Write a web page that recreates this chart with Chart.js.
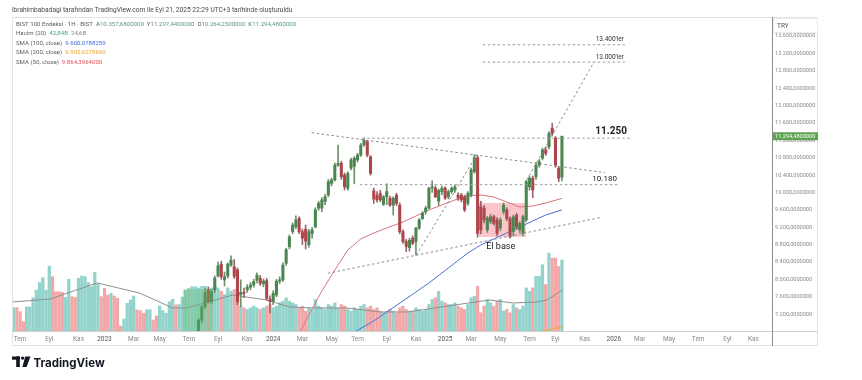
<!DOCTYPE html>
<html><head><meta charset="utf-8">
<script src="https://cdn.jsdelivr.net/npm/chart.js@4/dist/chart.umd.min.js"></script>
<style>html,body{margin:0;padding:0;background:#fff}canvas{display:block}</style>
</head><body><canvas id="c" width="862" height="380"></canvas>
<script>
// ---------- DATA ----------
const candleStart = '2023-07-24'; // first visible weekly bar (Monday)
const opens  = [6640,7060,7370,7770,7490,7760,8080,8350,7990,8080,8330,8290,8220,7650,7700,7760,7820,7870,7980,8030,7900,7970,7540,7490,7640,7960,7990,8370,8750,9100,9210,9400,9100,9150,8800,9050,9210,9640,9640,9790,9940,10210,10290,10630,10670,10400,10100,10560,10600,10750,10860,11100,11170,10820,10040,9940,9980,9730,9900,9870,9710,9940,9710,9100,8870,8730,8950,8870,9180,9400,9560,9640,10100,10100,9800,10020,10100,9900,10020,10060,9940,9940,9900,9750,9940,10480,10800,9670,9640,9140,9330,9440,9370,9180,9560,9600,9400,9100,9480,9140,9060,9370,10130,10330,10360,10630,10790,10980,11050,11480,11250,10560,10357.68];
const highs  = [7100,7400,7800,7830,7760,8080,8400,8420,8170,8380,8540,8460,8260,7990,7800,7880,7930,8000,8150,8090,8010,8020,7620,7740,8000,8060,8380,8720,9020,9300,9460,9440,9160,9250,9150,9200,9650,9800,9880,9960,10300,10330,10680,11090,10720,10450,10480,10790,10830,10900,11130,11250,11200,10850,10100,10020,10050,9930,10200,9920,9900,9980,9760,9140,8920,8950,9000,9200,9400,9560,9680,10120,10270,10150,10080,10150,10130,10060,10130,10170,9990,9980,9940,10020,10560,10870,10850,9800,9700,9450,9500,9480,9420,9420,9760,9650,9440,9480,9520,9330,9480,10280,10380,10380,10680,10760,11020,11050,11400,11590,11290,10600,11297.44];
const lows   = [6600,7000,7330,7450,7430,7700,8050,8000,7850,8030,8300,8020,7420,7370,7580,7700,7760,7820,7920,7860,7830,7520,7230,7420,7600,7900,7950,8320,8700,9050,9170,9050,8800,8700,8740,8950,9180,9590,9560,9720,9900,10150,10260,10600,10300,10060,10050,10520,10200,10700,10830,11060,10820,10400,9750,9780,9790,9700,9720,9680,9480,9700,9050,8830,8640,8650,8800,8560,9150,9380,9500,9620,10000,9880,9700,9950,9840,9850,9980,10000,9820,9780,9560,9700,9900,10440,8970,9050,9300,9080,9280,9250,9000,9120,9500,9350,8950,9000,9150,9080,9000,9330,10050,9880,10300,10580,10750,10850,11000,11300,10580,10250,10264.25];
const closes = [7060,7370,7700,7490,7720,8030,8310,8060,8060,8350,8440,8070,7490,7700,7680,7820,7870,7950,8100,7910,7960,7560,7490,7680,7960,7990,8330,8680,8980,9250,9370,9100,8950,8880,9100,9140,9600,9750,9830,9900,10250,10290,10630,10670,10360,10130,10440,10750,10790,10860,11090,11200,10860,10440,9850,9830,9830,9900,10020,9710,9870,9750,9100,8870,8760,8900,8830,9180,9370,9520,9640,10100,10130,9900,10050,10100,9870,10020,10100,10130,9870,9830,9600,9980,10520,10800,9060,9140,9370,9410,9440,9290,9060,9370,9710,9400,8980,9440,9210,9290,9440,10250,10330,10060,10630,10710,10980,10900,11360,11360,10630,10330,11294.48];
// weekly volume (billions) for the same weeks as the candles
const volumes = [26,27,27,25,26,27,26,24,22,26,24,25,20,15,14,13,14,15,14,13,14,15,16,14,15,17,18,20,18,17,16,14,15,12,14,13,19,15,14,13,16,15,17,14,16,15,13,12,14,13,15,16,14,15,13,14,12,11,12,13,12,11,14,15,13,12,12,14,13,12,13,16,19,20,24,18,17,16,16,17,15,14,13,16,20,21,27,11,15,19,17,15,18,19,12,13,11,16,14,13,15,26,24,26,33,33,40,28,47,44,44,39,42.84];
// weekly volume before the first visible candle (price below the pane)
const preVolumes  = [14.1,14.1,11.7,5.6,14.5,14.5,20,24.7,29.2,32.2,24.7,39.2,32.8,23.7,23.7,23.3,20.3,31.2,20.7,20.3,31.8,33.2,32.8,29.2,26.7,35.4,28.4,20.7,25.8,21.7,22.7,21.1,19.7,3.0,7.2,16.7,18.7,21.1,12.7,12.3,10.7,12.7,12.9,6.6,9.1,15.1,12.3,10.7,17.7,19.1,15.7,16,20.5,24.7,25.8,26.7,26.7];
const preVolumeUp = [1,0,0,0,1,1,1,1,1,1,1,1,0,0,0,0,1,1,0,0,1,1,1,1,1,1,1,0,0,0,1,0,0,0,1,1,1,1,0,0,0,1,1,0,0,1,1,1,1,1,0,1,1,1,1,1,1];
// moving averages
const sma50Dates  = ['2024-02-19','2024-03-18','2024-04-15','2024-05-13','2024-06-10','2024-07-08','2024-08-05','2024-09-02','2024-10-07','2024-11-04','2024-12-02','2024-12-30','2025-01-27','2025-02-24','2025-03-24','2025-04-21','2025-05-19','2025-06-16','2025-07-14','2025-08-11','2025-09-15'];
const sma50Values = [6605,7180,7733,8216,8677,8930,9068,9183,9321,9459,9597,9712,9827,9919,9942,9896,9781,9666,9689,9758,9864.40];
const sma100Dates  = ['2024-06-10','2024-08-05','2024-09-02','2024-10-07','2024-11-04','2024-12-02','2024-12-30','2025-01-27','2025-02-24','2025-03-24','2025-04-21','2025-05-19','2025-06-16','2025-07-14','2025-08-11','2025-09-15'];
const sma100Values = [6700,7043,7250,7503,7710,7917,8147,8377,8608,8792,8930,9068,9206,9344,9482,9600.08];
const sma200Dates  = ['2025-07-14','2025-09-15'];
const sma200Values = [6760,6905.63];
const volMaDates  = ['2022-06-17','2022-09-07','2022-12-17','2023-03-19','2023-05-29','2023-06-28','2023-10-06','2023-12-18','2024-02-05','2024-03-27','2024-06-08','2024-08-18','2024-10-18','2024-12-30','2025-03-11','2025-04-13','2025-06-01','2025-07-23','2025-08-14','2025-09-15'];
const volMaValues = [17.5,19.3,29,22.9,13.9,13.9,21.7,18.7,14.5,13.9,13.9,11.5,11.5,14.5,17.5,18.7,16.9,17.5,18.7,24.6];
// axis labels
const tickDates  = ['2022-07','2022-09','2022-11','2023-01','2023-03','2023-05','2023-07','2023-09','2023-11','2024-01','2024-03','2024-05','2024-07','2024-09','2024-11','2025-01','2025-03','2025-05','2025-07','2025-09','2025-11','2026-01','2026-03','2026-05','2026-07','2026-09','2026-11'];
const tickLabels = ['Tem','Eyl','Kas','2023','Mar','May','Tem','Eyl','Kas','2024','Mar','May','Tem','Eyl','Kas','2025','Mar','May','Tem','Eyl','Kas','2026','Mar','May','Tem','Eyl','Kas'];
const priceTicks = [7200,7600,8000,8400,8800,9200,9600,10000,10400,10800,11200,11600,12000,12400,12800,13200,13600];
// drawings (date, price)
const trendLines = [
  [['2024-03-24',11376],['2025-12-17',10456]],
  [['2024-11-05',8562],['2025-03-15',10863]],
  [['2024-04-28',8140],['2025-12-08',9425]],
  [['2025-07-01',10288],['2025-11-23',13000]]
];
const levelValues = [11250,10180,13400,13000];
const levelFrom   = ['2024-07-11','2024-07-06','2025-03-28','2025-03-28'];
const levelTo     = ['2026-02-13','2026-01-18','2026-01-29','2026-01-29'];
const levelLabels = ['11.250','10.180',"13.400'ler","13.000'ler"];
const baseBox  = {from:'2025-03-20', to:'2025-06-29', low:8976, high:9758, label:'El base', labelDate:'2025-05-06', labelPrice:8790};
const greenBox = {from:'2023-06-20', to:'2023-08-24', volTop:25.2};
const headerText = 'ibrahimbabadagi tarafından TradingView.com ile Eyl 21, 2025 22:29 UTC+3 tarihinde oluşturuldu';

// ---------- HELPERS ----------
const DAY = 864e5, WEEK = 7*DAY;
const T = s => Date.parse(s.length===7 ? s+'-01T00:00:00Z' : s+'T00:00:00Z');
const firstMonday = s => { let t=T(s); while(new Date(t).getUTCDay()!==1) t+=DAY; return t; };
const t0 = T(candleStart);
const fmt = v => { const [a,b]=v.toFixed(7).split('.'); return a.replace(/\B(?=(\d{3})+(?!\d))/g,'.')+','+b; };
const FONT = 'Roboto, "Noto Sans", sans-serif';
const UP='#4a8650', DN='#ad454b', VUP='#92d3cc', VDN='#f2a8a8';

const candleX = opens.map((_,i)=>t0+i*WEEK);
const bodies = opens.map((o,i)=>({x:candleX[i], y:[o,closes[i]]}));
const wicks  = opens.map((o,i)=>({x:candleX[i], y:[lows[i],highs[i]]}));
const volData = preVolumes.map((v,i)=>({x:t0-(preVolumes.length-i)*WEEK, y:v, up:preVolumeUp[i]===1}))
  .concat(volumes.map((v,i)=>({x:candleX[i], y:v, up:closes[i]>=opens[i]})));
const pts = (d,v)=>d.map((s,i)=>({x:T(s), y:v[i]}));

const base0 = T('2023-01-01');
const xMin = base0 - 198.5*DAY, xMax = base0 + 1441.2*DAY;

const lineDs = (data, color, axis, order, dash) => ({type:'line', data, yAxisID:axis, borderColor:color, borderWidth:1,
  pointRadius:0, tension:0, order, borderDash:dash||[], fill:false});

const datasets = [];
datasets.push({type:'bar', data:volData, yAxisID:'yv', grouped:false, barThickness:2.6, order:9,
  backgroundColor:c=>c.raw && c.raw.up ? VUP : VDN});
datasets.push(lineDs(pts(volMaDates,volMaValues),'#8f8f8f','yv',8));
datasets.push(lineDs(pts(sma200Dates,sma200Values),'#f0a830','y',7));
datasets.push(lineDs(pts(sma100Dates,sma100Values),'#4a6fd6','y',6));
datasets.push(lineDs(pts(sma50Dates,sma50Values),'#d9737c','y',5));
datasets.push({type:'bar', data:wicks, yAxisID:'y', grouped:false, barThickness:1, order:4,
  backgroundColor:c=>closes[c.dataIndex]>=opens[c.dataIndex]?'#6f8f6f':'#9a6266'});
datasets.push({type:'bar', data:bodies, yAxisID:'y', grouped:false, barThickness:2.4, minBarLength:1, order:3,
  backgroundColor:c=>closes[c.dataIndex]>=opens[c.dataIndex]?UP:DN});
trendLines.forEach(l=>datasets.push(lineDs(l.map(p=>({x:T(p[0]),y:p[1]})),'#8a8a8a','y',1,[2.5,2.5])));
levelValues.forEach((v,i)=>datasets.push(lineDs([{x:T(levelFrom[i]),y:v},{x:T(levelTo[i]),y:v}],'#9a9a9a','y',1,[2.5,2.5])));

const overlay = {
  id:'overlay',
  beforeDatasetsDraw(chart){
    const {ctx, scales:{x,y}} = chart;
    ctx.save();
    const x1=x.getPixelForValue(T(baseBox.from)), x2=x.getPixelForValue(T(baseBox.to));
    const y1=y.getPixelForValue(baseBox.high), y2=y.getPixelForValue(baseBox.low);
    ctx.fillStyle='rgba(242,120,128,0.42)';
    ctx.fillRect(x1,y1,x2-x1,y2-y1);
    ctx.restore();
  },
  afterDatasetsDraw(chart){
    const {ctx, scales:{x,yv}} = chart;
    ctx.save();
    const x1=x.getPixelForValue(T(greenBox.from)), x2=x.getPixelForValue(T(greenBox.to));
    const y1=yv.getPixelForValue(greenBox.volTop), y2=yv.getPixelForValue(0);
    ctx.fillStyle='rgba(102,187,106,0.35)';
    ctx.fillRect(x1,y1,x2-x1,y2-y1);
    ctx.restore();
  },
  afterDraw(chart){
    const {ctx, chartArea:a, scales:{x,y}} = chart;
    ctx.save();
    // frames
    ctx.strokeStyle='#e3e3e3'; ctx.lineWidth=1;
    ctx.strokeRect(12.5,17.5,805,328);
    ctx.strokeStyle='#cfcfcf';
    ctx.beginPath(); ctx.moveTo(12,a.bottom+0.5); ctx.lineTo(818,a.bottom+0.5); ctx.stroke();
    ctx.strokeStyle='#8d8d8d';
    ctx.beginPath(); ctx.moveTo(a.right+0.5,17); ctx.lineTo(a.right+0.5,346); ctx.stroke();
    // level labels
    ctx.textBaseline='alphabetic'; ctx.textAlign='right';
    levelValues.forEach((v,i)=>{
      const xe=x.getPixelForValue(T(levelTo[i])), yy=y.getPixelForValue(v);
      if(i===0){ ctx.font='bold 10px '+FONT; ctx.fillStyle='#222'; ctx.fillText(levelLabels[i], xe-5, yy-4.5); }
      else if(i===1){ ctx.font='8px '+FONT; ctx.fillStyle='#222'; ctx.fillText(levelLabels[i], xe-3, yy-3.5); }
      else { ctx.font='6.5px '+FONT; ctx.fillStyle='#333'; ctx.fillText(levelLabels[i], xe-1, yy-3.5); }
    });
    // El base
    ctx.textAlign='center'; ctx.font='9px '+FONT; ctx.fillStyle='#222';
    ctx.fillText(baseBox.label, x.getPixelForValue(T(baseBox.labelDate)), y.getPixelForValue(baseBox.labelPrice)+3.5);
    // current price tag
    const last = closes[closes.length-1], py=y.getPixelForValue(last);
    ctx.fillStyle='#5fa153'; ctx.fillRect(a.right+1, py-4, 45, 8);
    ctx.fillStyle='#fff'; ctx.font='5.6px '+FONT; ctx.textAlign='left'; ctx.textBaseline='middle';
    ctx.fillText(fmt(last), a.right+3, py+0.3);
    // TRY box
    ctx.fillStyle='#fff'; ctx.fillRect(a.right+1,18,45,15);
    ctx.strokeStyle='#ececec'; ctx.strokeRect(a.right+1.5,18.5,44,14);
    ctx.fillStyle='#555'; ctx.font='6.5px '+FONT; ctx.fillText('TRY', a.right+5, 26);
    // header (fitted to the width it has in the screenshot)
    ctx.textBaseline='middle'; ctx.textAlign='left'; ctx.fillStyle='#4a4a4a';
    ctx.font='6px '+FONT;
    const hw = ctx.measureText(headerText).width;
    ctx.font=(6*281/hw).toFixed(2)+'px '+FONT;
    ctx.fillText(headerText, 12, 10);
    const seg = (parts, yy) => { let xx=16; ctx.font='6.1px '+FONT; parts.forEach(([t,c])=>{ ctx.fillStyle=c; ctx.fillText(t,xx,yy); xx+=ctx.measureText(t).width; }); };
    const G='#5c5c5c', V='#5a9a74';
    seg([['BIST 100 Endeksi · 1H · BIST  ',G],['A',G],['10.357,6800000  ',V],['Y',G],['11.297,4400000  ',V],['D',G],['10.264,2500000  ',V],['K',G],['11.294,4800000',V]],24);
    seg([['Hacim (20)  ',G],['42,84B',  '#3fa894'],['  24,6B','#888']],33.8);
    seg([['SMA (100, close)  ',G],['9.600,0788259','#3f6fd8']],43.3);
    seg([['SMA (200, close)  ',G],['6.905,6278600','#f0a830']],52.7);
    seg([['SMA (50, close)  ',G],['9.864,3964000','#e0505c']],62);
    // TradingView logo
    ctx.fillStyle='#131722';
    ctx.fillRect(12,356.5,8,3.2); ctx.fillRect(16.2,356.5,3.6,10.5);
    ctx.beginPath(); ctx.arc(22.6,358.1,1.7,0,Math.PI*2); ctx.fill();
    ctx.beginPath(); ctx.moveTo(25.2,356.5); ctx.lineTo(30.5,356.5); ctx.lineTo(26.6,367); ctx.lineTo(22.4,367); ctx.closePath(); ctx.fill();
    ctx.font='bold 11.5px Inter, '+FONT; ctx.textBaseline='alphabetic';
    ctx.fillText('TradingView', 33.5, 366.5);
    ctx.restore();
  }
};

new Chart(document.getElementById('c'), {
  type:'bar',
  data:{datasets},
  options:{
    responsive:false, animation:false, devicePixelRatio:1, events:[],
    layout:{padding:{left:12, top:17, right:44, bottom:35}},
    plugins:{legend:{display:false}, tooltip:{enabled:false}},
    scales:{
      x:{type:'linear', position:'bottom', min:xMin, max:xMax, offset:false,
        grid:{display:false, drawTicks:false}, border:{display:false},
        afterBuildTicks:s=>{ s.ticks = tickDates.map(d=>({value:firstMonday(d)})); },
        afterFit:s=>{ s.height=14; },
        ticks:{autoSkip:false, maxRotation:0, padding:4, font:{family:FONT, size:6.5},
          color:c=>/^\d{4}$/.test(tickLabels[c.index])?'#555':'#8a8a8a',
          callback:(v,i)=>tickLabels[i]}},
      y:{type:'linear', position:'right', min:6812, max:14039,
        grid:{display:false, drawTicks:false}, border:{display:false},
        afterBuildTicks:s=>{ s.ticks = priceTicks.map(v=>({value:v})); },
        afterFit:s=>{ s.width=46; },
        ticks:{padding:3, font:{family:FONT, size:5.6}, color:'#8a8a8a', callback:v=>fmt(v)}},
      yv:{type:'linear', display:false, min:0, max:189.5}
    }
  },
  plugins:[overlay]
});
</script></body></html>
